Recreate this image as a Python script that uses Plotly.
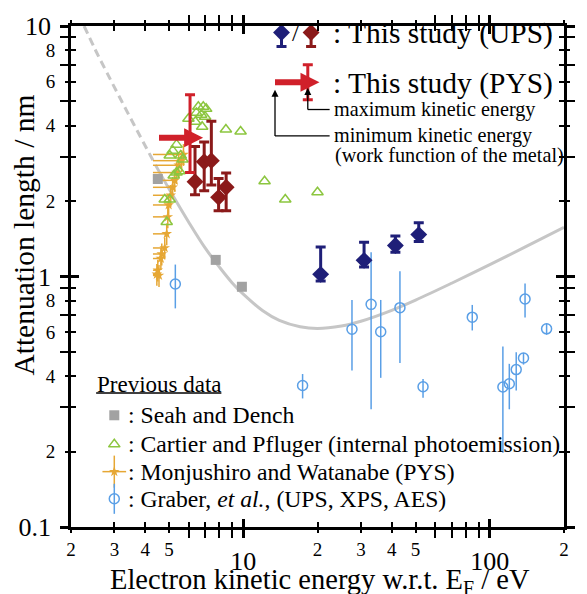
import numpy as np
import plotly.graph_objects as go

# ---------------- data ----------------
# universal curve (Seah & Dench)
curve_dash_x = [2.26, 2.5, 2.8, 3.2, 3.7, 4.3]
curve_dash_y = [10.0, 8.1, 6.5, 5.04, 3.84, 2.91]
curve_solid_x = [4.4, 4.6, 5.2, 6, 7, 8, 9, 10, 12, 14, 17, 20, 25, 30, 40, 50, 70, 100, 140, 200]
curve_solid_y = [2.79, 2.58, 2.09, 1.65, 1.30, 1.09, 0.945, 0.85, 0.73, 0.668, 0.63, 0.62, 0.634,
                 0.663, 0.733, 0.805, 0.94, 1.115, 1.316, 1.57]

# Seah and Dench (squares)
sd_x = [4.5, 7.73, 9.87]
sd_y = [2.45, 1.165, 0.91]

# Cartier and Pfluger (open triangles)
cp_x = [6.57, 6.88, 7.07, 6.45, 6.75, 7.00, 5.99, 6.39, 6.81, 8.50, 9.75, 5.36, 5.17, 5.03, 5.57,
        5.67, 5.36, 5.22, 5.51, 4.80, 5.03, 4.89, 12.2, 14.8, 20.0]
cp_y = [4.76, 4.76, 4.67, 4.50, 4.42, 4.34, 4.26, 4.15, 3.96, 3.86, 3.79, 3.36, 3.18, 3.04, 3.04,
        2.93, 2.60, 2.53, 2.63, 2.03, 2.03, 1.65, 2.40, 2.03, 2.17]

# Monjushiro and Watanabe (PYS)
mw_x = [5.72, 5.62, 5.47, 5.36, 5.27, 5.17, 5.08, 4.98, 4.94, 4.89, 4.80, 4.67, 4.63, 4.50, 4.46, 4.55]
mw_y = [3.07, 2.90, 2.78, 2.60, 2.42, 2.27, 2.11, 1.93, 1.73, 1.48, 1.30, 1.23, 1.18, 1.06, 1.02, 1.01]
mw_xmin = [4.3] * 16

# Graber et al. (UPS, XPS, AES)
gr_x = [5.3, 17.4, 27.6, 33.0, 36.1, 43.2, 53.6, 84.9, 113, 120, 128, 137, 139, 170]
gr_y = [0.933, 0.367, 0.616, 0.774, 0.602, 0.751, 0.363, 0.688, 0.362, 0.373, 0.425, 0.473, 0.813, 0.618]
gr_hi = [1.116, 0.408, 0.806, 1.25, 0.806, 1.05, 0.39, 0.77, 0.526, 0.448, 0.498, 0.495, 0.938, 0.65]
gr_lo = [0.746, 0.326, 0.421, 0.295, 0.394, 0.452, 0.328, 0.609, 0.198, 0.295, 0.351, 0.445, 0.686, 0.585]

# This study (UPS) - navy
upsb_x = [20.6, 30.9, 41.4, 51.5]
upsb_y = [1.02, 1.16, 1.33, 1.47]
upsb_hi = [1.31, 1.37, 1.45, 1.64]
upsb_lo = [0.96, 1.09, 1.25, 1.38]

# This study (UPS) - dark red
upsr_x = [6.37, 6.94, 7.42, 7.94, 8.52]
upsr_y = [2.39, 2.87, 2.90, 2.07, 2.27]
upsr_hi = [3.30, 3.44, 4.17, 2.46, 2.59]
upsr_lo = [2.12, 2.20, 2.32, 1.83, 1.83]

# This study (PYS)
pys_min_ke = [4.55]
pys_max_ke = [6.08]
pys_y = [3.58]
pys_hi = [5.32]
pys_lo = [2.60]

# ticks
x_major = [10, 100]
x_major_text = ['10', '100']
x_small = [2, 3, 4, 5, 20, 30, 40, 50, 200]
x_small_text = ['2', '3', '4', '5', '2', '3', '4', '5', '2']
x_minor = [6, 7, 8, 9, 60, 70, 80, 90]
y_major = [0.1, 1, 10]
y_major_text = ['0.1', '1', '10']
y_small = [0.2, 0.4, 0.6, 0.8, 2, 4, 6, 8]
y_small_text = ['2', '4', '6', '8', '2', '4', '6', '8']
y_minor = [0.3, 0.5, 0.7, 0.9, 3, 5, 7, 9]

# ---------------- style ----------------
FONT = 'Liberation Serif'
GRAY_LINE = '#c6c6c6'
GRAY_SQ = '#a2a2a2'
GREEN = '#8cc63f'
ORANGE = '#e6a734'
BLUE = '#5a9fe6'
NAVY = '#1f1f78'
DRED = '#8b1a1a'
RED = '#d0202a'

fig = go.Figure()
nohover = dict(showlegend=False, hoverinfo='skip')

fig.add_trace(go.Scatter(x=curve_dash_x, y=curve_dash_y, mode='lines',
                         line=dict(color=GRAY_LINE, width=3, dash='8px,5px', shape='spline'), **nohover))
fig.add_trace(go.Scatter(x=curve_solid_x, y=curve_solid_y, mode='lines',
                         line=dict(color=GRAY_LINE, width=3, shape='spline'), **nohover))

fig.add_trace(go.Scatter(
    x=mw_x, y=mw_y, mode='markers',
    marker=dict(symbol='star', size=8, color=ORANGE),
    error_x=dict(type='data', symmetric=False, array=[0] * len(mw_x),
                 arrayminus=[a - b for a, b in zip(mw_x, mw_xmin)],
                 color=ORANGE, thickness=1.5, width=0),
    error_y=dict(type='percent', value=10, color=ORANGE, thickness=1.5, width=0),
    **nohover))

fig.add_trace(go.Scatter(x=cp_x, y=cp_y, mode='markers',
                         marker=dict(symbol='triangle-up-open', size=10, color=GREEN, line=dict(width=1.5, color=GREEN)),
                         **nohover))

fig.add_trace(go.Scatter(x=sd_x, y=sd_y, mode='markers',
                         marker=dict(symbol='square', size=10, color=GRAY_SQ), **nohover))

fig.add_trace(go.Scatter(
    x=gr_x, y=gr_y, mode='markers',
    marker=dict(symbol='circle-open', size=10, color=BLUE, line=dict(width=1.5, color=BLUE)),
    error_y=dict(type='data', symmetric=False,
                 array=[h - v for h, v in zip(gr_hi, gr_y)],
                 arrayminus=[v - l for l, v in zip(gr_lo, gr_y)],
                 color=BLUE, thickness=1.5, width=0),
    **nohover))

for xs, ys, his, los, col in [(upsb_x, upsb_y, upsb_hi, upsb_lo, NAVY),
                              (upsr_x, upsr_y, upsr_hi, upsr_lo, DRED)]:
    fig.add_trace(go.Scatter(
        x=xs, y=ys, mode='markers',
        marker=dict(symbol='diamond', size=13, color=col),
        error_y=dict(type='data', symmetric=False,
                     array=[h - v for h, v in zip(his, ys)],
                     arrayminus=[v - l for l, v in zip(los, ys)],
                     color=col, thickness=3, width=5),
        **nohover))

# PYS arrow: shaft from min KE, vertical bar at max KE, arrow head just beyond
pys_tip = [m * 1.13 for m in pys_max_ke]
fig.add_trace(go.Scatter(x=[pys_min_ke[0], pys_max_ke[0]], y=[pys_y[0], pys_y[0]], mode='lines',
                         line=dict(color=RED, width=6), **nohover))
fig.add_trace(go.Scatter(x=pys_tip, y=pys_y, mode='markers',
                         marker=dict(symbol='arrow-right', size=19, color=RED, line=dict(width=0)), **nohover))
fig.add_trace(go.Scatter(
    x=pys_max_ke, y=pys_y, mode='markers', marker=dict(size=1, color='rgba(0,0,0,0)'),
    error_y=dict(type='data', symmetric=False,
                 array=[h - v for h, v in zip(pys_hi, pys_y)],
                 arrayminus=[v - l for l, v in zip(pys_lo, pys_y)],
                 color=RED, thickness=3, width=5),
    **nohover))

# ---------------- legend glyphs on a 0..1 overlay frame ----------------
L = dict(xaxis='x2', yaxis='y2', **nohover)
# top legend
fig.add_trace(go.Scatter(x=[0.427], y=[0.987], mode='markers', marker=dict(symbol='diamond', size=13, color=NAVY),
                         error_y=dict(type='data', symmetric=False, array=[0.035], arrayminus=[0.028],
                                      color=NAVY, thickness=3, width=5), **L))
fig.add_trace(go.Scatter(x=[0.487], y=[0.987], mode='markers', marker=dict(symbol='diamond', size=13, color=DRED),
                         error_y=dict(type='data', symmetric=False, array=[0.035], arrayminus=[0.028],
                                      color=DRED, thickness=3, width=5), **L))
fig.add_trace(go.Scatter(x=[0.4138, 0.4803], y=[0.8876, 0.8876], mode='lines', line=dict(color=RED, width=6), **L))
fig.add_trace(go.Scatter(x=[0.504], y=[0.8876], mode='markers',
                         marker=dict(symbol='arrow-right', size=19, color=RED, line=dict(width=0)), **L))
fig.add_trace(go.Scatter(x=[0.4803], y=[0.8876], mode='markers', marker=dict(size=1, color='rgba(0,0,0,0)'),
                         error_y=dict(type='data', symmetric=True, array=[0.035], color=RED, thickness=3, width=5), **L))
# small black arrow heads of the explanation
fig.add_trace(go.Scatter(x=[0.4803, 0.4138], y=[0.8764, 0.873], mode='markers',
                         marker=dict(symbol='arrow-up', size=7, color='black', line=dict(width=0)), **L))
# bottom legend
fig.add_trace(go.Scatter(x=[0.0878], y=[0.223], mode='markers', marker=dict(symbol='square', size=10, color=GRAY_SQ), **L))
fig.add_trace(go.Scatter(x=[0.0878], y=[0.165], mode='markers',
                         marker=dict(symbol='triangle-up-open', size=10, color=GREEN, line=dict(width=1.5, color=GREEN)), **L))
fig.add_trace(go.Scatter(x=[0.0878], y=[0.1105], mode='markers', marker=dict(symbol='star', size=8, color=ORANGE),
                         error_x=dict(type='data', array=[0.024], color=ORANGE, thickness=1.5, width=0),
                         error_y=dict(type='data', array=[0.032], color=ORANGE, thickness=1.5, width=0), **L))
fig.add_trace(go.Scatter(x=[0.0878], y=[0.0563], mode='markers',
                         marker=dict(symbol='circle-open', size=10, color=BLUE, line=dict(width=1.5, color=BLUE)),
                         error_y=dict(type='data', array=[0.03], color=BLUE, thickness=1.5, width=0), **L))

# dummy traces so the tick-overlay axes are drawn
for xa, ya in [('x3', 'y'), ('x4', 'y'), ('x', 'y3'), ('x', 'y4')]:
    fig.add_trace(go.Scatter(x=[None], y=[None], xaxis=xa, yaxis=ya, **nohover))

# ---------------- axes ----------------
xr = [np.log10(2), np.log10(200)]
yr = [-1, 1]
base = dict(type='log', showgrid=False, zeroline=False)
tickc = dict(tickcolor='black')

fig.update_layout(
    xaxis=dict(**base, range=xr, showline=True, linecolor='black', linewidth=2.5, mirror='allticks',
               ticks='outside', ticklen=8, tickwidth=2.5, **tickc, tickvals=x_major, ticktext=x_major_text,
               tickfont=dict(family=FONT, size=26, color='black'), ticklabelstandoff=1,
               minor=dict(tickvals=x_minor, ticks='outside', ticklen=5, tickwidth=2, tickcolor='black')),
    xaxis3=dict(**base, range=xr, overlaying='x', anchor='y', side='bottom', showline=False, mirror='allticks',
                ticks='inside', ticklen=8, tickwidth=2.5, **tickc, tickvals=x_major, showticklabels=False,
                minor=dict(tickvals=x_small + x_minor, ticks='inside', ticklen=5, tickwidth=2, tickcolor='black')),
    xaxis4=dict(**base, range=xr, overlaying='x', anchor='y', side='bottom', showline=False, mirror='allticks',
                ticks='outside', ticklen=5, tickwidth=2, **tickc, tickvals=x_small, ticktext=x_small_text,
                tickfont=dict(family=FONT, size=19, color='black')),
    yaxis=dict(**base, range=yr, showline=True, linecolor='black', linewidth=2.5, mirror='allticks',
               ticks='outside', ticklen=8, tickwidth=2.5, **tickc, tickvals=y_major, ticktext=y_major_text,
               tickfont=dict(family=FONT, size=26, color='black'), ticklabelstandoff=4,
               minor=dict(tickvals=y_minor, ticks='outside', ticklen=5, tickwidth=2, tickcolor='black')),
    yaxis3=dict(**base, range=yr, overlaying='y', anchor='x', side='left', showline=False, mirror='allticks',
                ticks='inside', ticklen=8, tickwidth=2.5, **tickc, tickvals=y_major, showticklabels=False,
                minor=dict(tickvals=y_small + y_minor, ticks='inside', ticklen=5, tickwidth=2, tickcolor='black')),
    yaxis4=dict(**base, range=yr, overlaying='y', anchor='x', side='left', showline=False, mirror='allticks',
                ticks='outside', ticklen=5, tickwidth=2, **tickc, tickvals=y_small, ticktext=y_small_text,
                tickfont=dict(family=FONT, size=19, color='black'), ticklabelstandoff=6),
    xaxis2=dict(range=[0, 1], overlaying='x', anchor='y2', visible=False),
    yaxis2=dict(range=[0, 1], overlaying='y', anchor='x2', visible=False),
    width=587, height=594,
    margin=dict(l=71, r=15, t=23, b=67),
    paper_bgcolor='white', plot_bgcolor='white',
    showlegend=False,
)

# ---------------- text ----------------
def ann(text, x, y, size, xanchor='left', **kw):
    fig.add_annotation(text=text, x=x, y=y, xref='paper', yref='paper', showarrow=False,
                       xanchor=xanchor, yanchor='middle', font=dict(family=FONT, size=size, color='black'), **kw)

ann('Electron kinetic energy w.r.t. E<sub>F</sub> / eV', 0.505, -0.109, 28.5, xanchor='center')
ann('Attenuation length / nm', -0.096, 0.583, 29.5, xanchor='center', textangle=-90)

ann('/', 0.455, 0.986, 24, xanchor='center')
ann(': This study (UPS)', 0.528, 0.985, 29.5)
ann(': This study (PYS)', 0.528, 0.885, 29.5)
ann('maximum kinetic energy', 0.53, 0.834, 20.2)
ann('minimum kinetic energy', 0.53, 0.782, 20.2)
ann('(work function of the metal)', 0.531, 0.742, 20.2)

ann('Previous data', 0.048, 0.285, 23)
ann(': Seah and Dench', 0.111, 0.223, 23.7)
ann(': Cartier and Pfluger (internal photoemission)', 0.111, 0.165, 23.7)
ann(': Monjushiro and Watanabe (PYS)', 0.111, 0.1105, 23.7)
ann(': Graber, <i>et al.</i>, (UPS, XPS, AES)', 0.111, 0.0563, 23.7)

line_k = dict(xref='paper', yref='paper', line=dict(color='black', width=1.3))
# underline of "Previous data"
fig.add_shape(type='line', x0=0.051, x1=0.305, y0=0.2675, y1=0.2675, **line_k)
# connector lines of the PYS explanation
fig.add_shape(type='line', x0=0.5246, x1=0.4803, y0=0.8333, y1=0.8333, **line_k)
fig.add_shape(type='line', x0=0.4803, x1=0.4803, y0=0.8333, y1=0.866, **line_k)
fig.add_shape(type='line', x0=0.5246, x1=0.4138, y0=0.7806, y1=0.7806, **line_k)
fig.add_shape(type='line', x0=0.4138, x1=0.4138, y0=0.7806, y1=0.863, **line_k)

fig.write_html('out.html', config={'displayModeBar': False},
               post_script="document.body.style.margin='0';document.body.style.overflow='hidden';")
